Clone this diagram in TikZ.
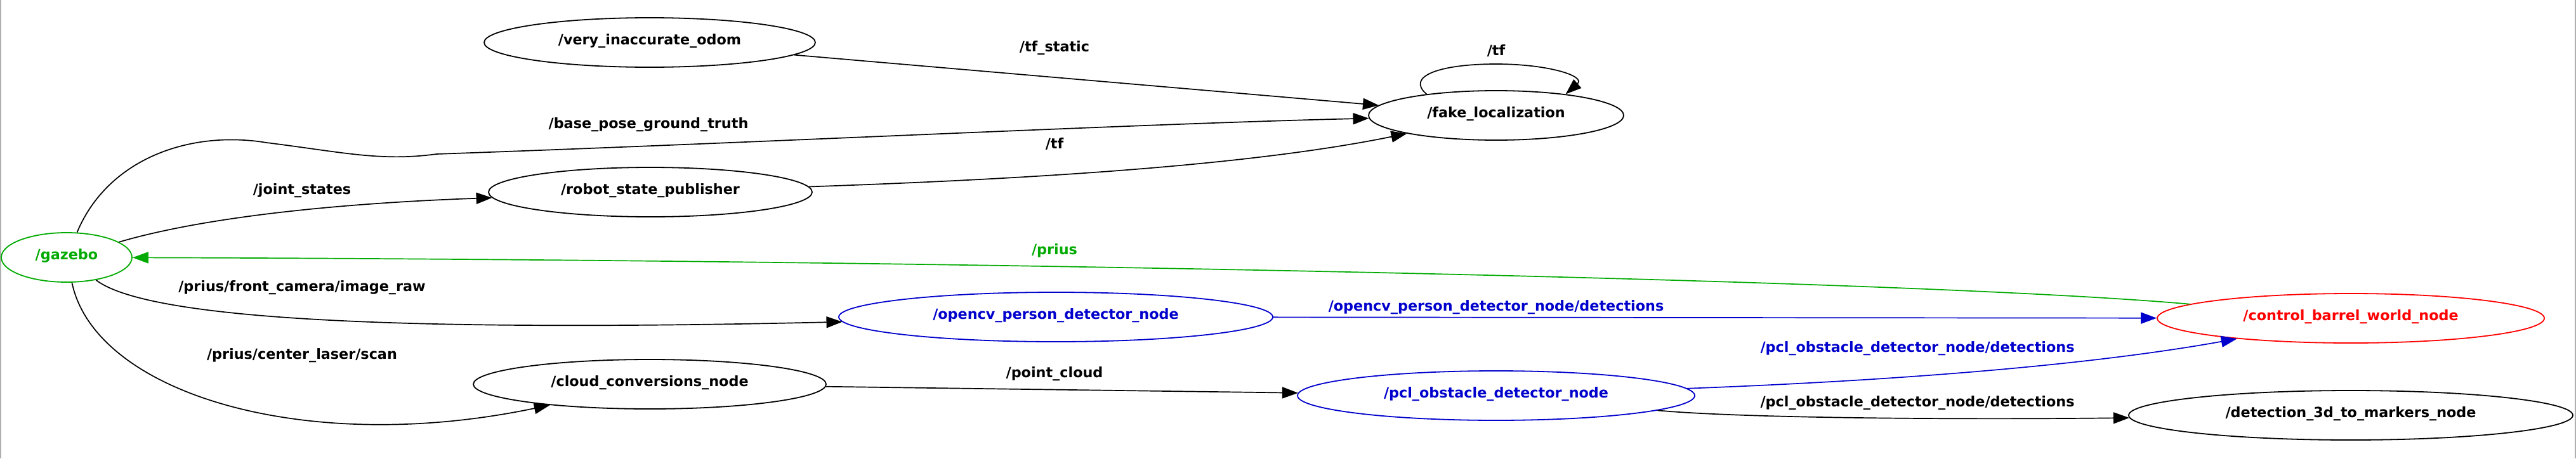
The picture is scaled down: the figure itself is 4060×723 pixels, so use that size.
\documentclass[tikz,border=0pt]{standalone}
\usepackage{fontspec}
\setmainfont{DejaVu Sans}
\usetikzlibrary{shapes.geometric,arrows.meta}
\definecolor{rosgreen}{RGB}{0,170,0}
\definecolor{rosblue}{RGB}{0,0,204}
\definecolor{rosred}{RGB}{255,0,0}
\definecolor{framegray}{RGB}{176,176,176}
\begin{document}
\begin{tikzpicture}[x=1pt,y=-1pt,
  every node/.style={font=\fontsize{22.3}{26}\selectfont\bfseries, text height=0.81em, text depth=0.19em, inner sep=0pt},
  topic/.style={ellipse, draw, line width=1.8pt, minimum height=78pt},
  edge/.style={line width=1.7pt, -{Triangle[length=25pt,width=18pt]}},
  greenobj/.style={draw=rosgreen, text=rosgreen},
  blueobj/.style={draw=rosblue, text=rosblue},
  redobj/.style={draw=rosred, text=rosred}]
\useasboundingbox (0,0) rectangle (4060,723);
\draw[framegray, line width=1.5pt] (1,0) -- (1,723);
\draw[framegray, line width=1.5pt] (4059,0) -- (4059,723);

% nodes
\node[topic, greenobj, minimum width=206pt] (gazebo) at (105,406) {/gazebo};
\node[topic, minimum width=522pt] (odom) at (1024,67) {/very\_inaccurate\_odom};
\node[topic, minimum width=510pt] (rsp) at (1025,303) {/robot\_state\_publisher};
\node[topic, minimum width=556pt] (ccn) at (1024,606) {/cloud\_conversions\_node};
\node[topic, minimum width=402pt] (fake) at (2358,182) {/fake\_localization};
\node[topic, blueobj, minimum width=684pt] (opencv) at (1664,500) {/opencv\_person\_detector\_node};
\node[topic, blueobj, minimum width=626pt] (pcl) at (2358,624) {/pcl\_obstacle\_detector\_node};
\node[topic, redobj, minimum width=610pt] (cbw) at (3705,502) {/control\_barrel\_world\_node};
\node[topic, minimum width=700pt] (det) at (3705,655) {/detection\_3d\_to\_markers\_node};

% edges
\draw[edge] (odom) -- (fake);
\draw[edge] (gazebo) .. controls (170,250) and (300,205) .. (420,225)
  .. controls (540,240) and (600,255) .. (688,243)
  .. controls (1200,225) and (1800,195) .. (fake);
\draw[edge] (gazebo) .. controls (330,340) and (550,320) .. (rsp);
\draw[edge] (rsp) .. controls (1700,280) and (2000,255) .. (fake);
\draw[edge, rosgreen] (cbw) .. controls (3000,440) and (1500,410) .. (gazebo);
\draw[edge] (gazebo) .. controls (240,510) and (700,522) .. (opencv);
\draw[edge] (gazebo) .. controls (150,620) and (480,720) .. (ccn);
\draw[edge, rosblue] (opencv) -- (cbw);
\draw[edge] (ccn) -- (pcl);
\draw[edge, rosblue] (pcl) .. controls (3000,600) and (3300,575) .. (cbw);
\draw[edge] (pcl) .. controls (2750,660) and (3100,662) .. (det);
\draw[edge] (fake.163) .. controls (2215,120) and (2270,101) .. (2358,101)
  .. controls (2440,101) and (2500,120) .. (fake.17);

% labels
\node (l1) at (1662,78) {/tf\_static};
\node (l2) at (1022,199) {/base\_pose\_ground\_truth};
\node (l3) at (476,303) {/joint\_states};
\node (l4) at (1662,231) {/tf};
\node[text=rosgreen] (l5) at (1662,398) {/prius};
\node (l6) at (476,456) {/prius/front\_camera/image\_raw};
\node (l7) at (476,563) {/prius/center\_laser/scan};
\node[text=rosblue] (l8) at (2358,487) {/opencv\_person\_detector\_node/detections};
\node (l9) at (1662,592) {/point\_cloud};
\node[text=rosblue] (l10) at (3022,552) {/pcl\_obstacle\_detector\_node/detections};
\node (l11) at (3022,638) {/pcl\_obstacle\_detector\_node/detections};
\node (l12) at (2358,84) {/tf};
\end{tikzpicture}
\end{document}
